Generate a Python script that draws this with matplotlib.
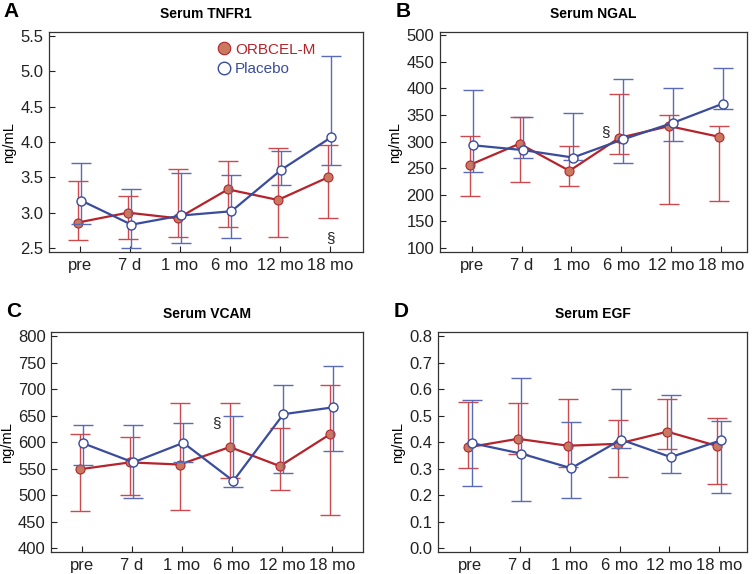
import numpy as np
import matplotlib.pyplot as plt
from matplotlib.lines import Line2D

plt.rcParams['font.family'] = ['Liberation Sans', 'DejaVu Sans']

# time points
timepoints = ['pre', '7 d', '1 mo', '6 mo', '12 mo', '18 mo']

# Serum TNFR1 (ng/mL)
tnfr1_orb = [2.86, 3.00, 2.92, 3.33, 3.18, 3.50]
tnfr1_orb_lo = [2.61, 2.63, 2.65, 2.80, 2.66, 2.92]
tnfr1_orb_hi = [3.45, 3.23, 3.62, 3.73, 3.92, 3.96]
tnfr1_pla = [3.17, 2.83, 2.96, 3.02, 3.61, 4.07]
tnfr1_pla_lo = [2.84, 2.50, 2.57, 2.64, 3.39, 3.68]
tnfr1_pla_hi = [3.70, 3.34, 3.56, 3.54, 3.87, 5.22]

# Serum NGAL (ng/mL)
ngal_orb = [256, 296, 245, 307, 329, 309]
ngal_orb_lo = [197, 224, 216, 276, 182, 188]
ngal_orb_hi = [311, 346, 291, 390, 349, 329]
ngal_pla = [293, 284, 270, 304, 335, 371]
ngal_pla_lo = [242, 269, 266, 259, 301, 362]
ngal_pla_hi = [396, 346, 354, 417, 401, 438]

# Serum VCAM (ng/mL)
vcam_orb = [549, 562, 558, 591, 555, 615]
vcam_orb_lo = [470, 501, 472, 533, 510, 463]
vcam_orb_hi = [616, 609, 675, 675, 627, 709]
vcam_pla = [598, 562, 599, 527, 653, 666]
vcam_pla_lo = [557, 495, 562, 515, 542, 584]
vcam_pla_hi = [633, 633, 636, 650, 709, 744]

# Serum EGF (ng/mL)
egf_orb = [0.381, 0.413, 0.387, 0.394, 0.440, 0.386]
egf_orb_lo = [0.302, 0.355, 0.307, 0.270, 0.374, 0.241]
egf_orb_hi = [0.553, 0.549, 0.564, 0.483, 0.564, 0.492]
egf_pla = [0.397, 0.357, 0.302, 0.410, 0.344, 0.407]
egf_pla_lo = [0.234, 0.177, 0.190, 0.380, 0.283, 0.210]
egf_pla_hi = [0.559, 0.642, 0.476, 0.602, 0.579, 0.482]

# colours
red_line = '#B5232B'
red_err = '#CC4A4E'
red_fill = '#C9795F'
blue_line = '#3A4C9C'
blue_err = '#5A6BB3'

panels = [
    dict(letter='A', title='Serum TNFR1', pos=[0.065, 0.561, 0.417, 0.383],
         orb=(tnfr1_orb, tnfr1_orb_lo, tnfr1_orb_hi),
         pla=(tnfr1_pla, tnfr1_pla_lo, tnfr1_pla_hi),
         ylim=(2.443, 5.557), yticks=np.arange(2.5, 5.51, 0.5), fmt='{:.1f}',
         xlim=(-0.62, 5.66), sect=(5.0, 2.64), legend=True),
    dict(letter='B', title='Serum NGAL', pos=[0.584, 0.561, 0.408, 0.383],
         orb=(ngal_orb, ngal_orb_lo, ngal_orb_hi),
         pla=(ngal_pla, ngal_pla_lo, ngal_pla_hi),
         ylim=(92.5, 505.6), yticks=np.arange(100, 501, 50), fmt='{:.0f}',
         xlim=(-0.64, 5.52), sect=(2.69, 318), legend=False),
    dict(letter='C', title='Serum VCAM', pos=[0.068, 0.038, 0.414, 0.383],
         orb=(vcam_orb, vcam_orb_lo, vcam_orb_hi),
         pla=(vcam_pla, vcam_pla_lo, vcam_pla_hi),
         ylim=(392.5, 807.5), yticks=np.arange(400, 801, 50), fmt='{:.0f}',
         xlim=(-0.61, 5.62), sect=(2.69, 636), legend=False),
    dict(letter='D', title='Serum EGF', pos=[0.582, 0.038, 0.410, 0.383],
         orb=(egf_orb, egf_orb_lo, egf_orb_hi),
         pla=(egf_pla, egf_pla_lo, egf_pla_hi),
         ylim=(-0.015, 0.815), yticks=np.arange(0, 0.81, 0.1), fmt='{:.1f}',
         xlim=(-0.64, 5.56), sect=None, legend=False),
]

fig = plt.figure(figsize=(7.53, 5.74), dpi=100)
x = np.arange(len(timepoints))

for p in panels:
    ax = fig.add_axes(p['pos'])
    m, lo, hi = [np.array(v, dtype=float) for v in p['orb']]
    xo = x - 0.04
    ax.errorbar(xo, m, yerr=[m - lo, hi - m], fmt='none', ecolor=red_err,
                elinewidth=1.0, capsize=7, capthick=1.0, zorder=2)
    ax.plot(xo, m, '-o', color=red_line, lw=1.6, ms=6.5, mfc=red_fill,
            mec=red_line, mew=0.8, zorder=3)
    m, lo, hi = [np.array(v, dtype=float) for v in p['pla']]
    xb = x + 0.03
    ax.errorbar(xb, m, yerr=[m - lo, hi - m], fmt='none', ecolor=blue_err,
                elinewidth=1.0, capsize=7, capthick=1.0, zorder=4)
    ax.plot(xb, m, '-o', color=blue_line, lw=1.6, ms=6.5, mfc='white',
            mec=blue_line, mew=1.0, zorder=5)

    ax.set_xlim(p['xlim'])
    ax.set_ylim(p['ylim'])
    ax.set_xticks(x)
    ax.set_xticklabels(timepoints)
    ax.set_yticks(p['yticks'])
    ax.set_yticklabels([p['fmt'].format(v) for v in p['yticks']])
    ax.tick_params(direction='in', length=4, width=0.8, labelsize=12,
                   colors='#222222', pad=4)
    for s in ax.spines.values():
        s.set_linewidth(0.9)
        s.set_color('#333333')
    ax.set_ylabel('ng/mL', fontsize=10.5, labelpad=3)
    ax.set_title(p['title'], fontsize=10, fontweight='bold', pad=10)
    ax.text(-0.145, 1.095, p['letter'], transform=ax.transAxes, fontsize=15,
            fontweight='bold', ha='left', va='center')
    if p['sect'] is not None:
        ax.text(p['sect'][0], p['sect'][1], '§', fontsize=11, ha='center',
                va='center', color='#222222')
    if p['legend']:
        handles = [
            Line2D([], [], ls='none', marker='o', ms=9, mfc=red_fill, mec=red_line, mew=0.8),
            Line2D([], [], ls='none', marker='o', ms=9, mfc='white', mec=blue_line, mew=1.0),
        ]
        ax.legend(handles, ['ORBCEL-M', 'Placebo'], loc='upper left',
                  bbox_to_anchor=(0.495, 1.0), frameon=False, fontsize=11,
                  handletextpad=0.1, handlelength=1.2, labelspacing=0.35,
                  labelcolor=[red_line, blue_line], borderpad=0.2)

fig.savefig('out.png', dpi=100)
